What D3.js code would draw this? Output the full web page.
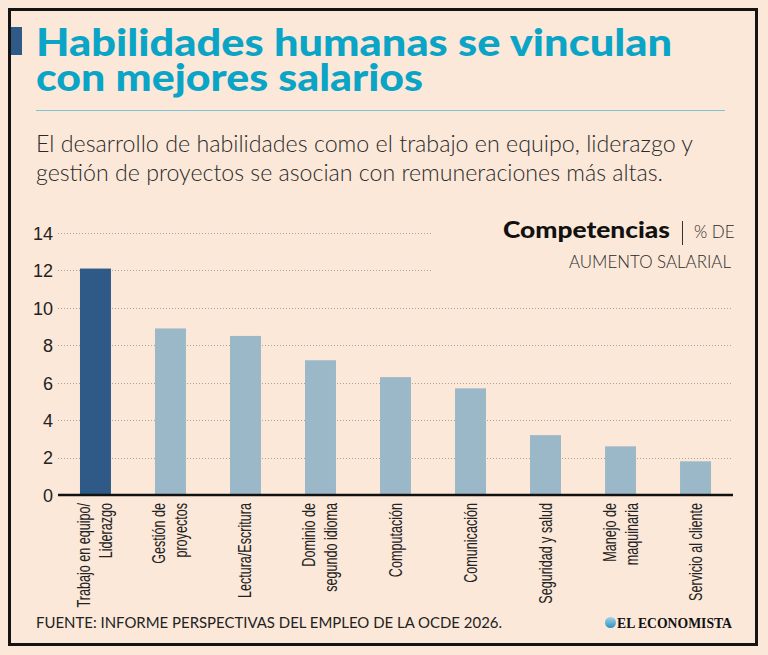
<!DOCTYPE html>
<html>
<head>
<meta charset="utf-8">
<script src="https://cdn.jsdelivr.net/npm/d3@7"></script>
<style>
    body { margin: 0; background: #fbe8d9; }
    svg { display: block; }
</style>
</head>
<body>
<div id="chart"></div>
<script>

// data
const skills = [
    "Trabajo en equipo/\nLiderazgo",
    "Gestión de\nproyectos",
    "Lectura/Escritura",
    "Dominio de\nsegundo idioma",
    "Computación",
    "Comunicación",
    "Seguridad y salud",
    "Manejo de\nmaquinaria",
    "Servicio al cliente"
];
const salaryIncrease = [12.1, 8.9, 8.5, 7.2, 6.3, 5.7, 3.2, 2.6, 1.8];
const yTicks = [0, 2, 4, 6, 8, 10, 12, 14];
const highlighted = ["Trabajo en equipo/\nLiderazgo"];

const titleLines = ["Habilidades humanas se vinculan", "con mejores salarios"];
const subtitleLines = [
    "El desarrollo de habilidades como el trabajo en equipo, liderazgo y",
    "gestión de proyectos se asocian con remuneraciones más altas."
];
const sourceText = "FUENTE: INFORME PERSPECTIVAS DEL EMPLEO DE LA OCDE 2026.";


class BarVis {

    constructor(parentElement) {
        this.parentElement = parentElement;
        this.initVis();
    }

    initVis() {
        let vis = this;

        vis.width = 768;
        vis.height = 655;

        vis.svg = d3.select("#" + vis.parentElement).append("svg")
            .attr("width", vis.width)
            .attr("height", vis.height);

        vis.svg.append("rect")
            .attr("width", vis.width)
            .attr("height", vis.height)
            .attr("fill", "#fbe8d9");

        // frame
        vis.svg.append("rect")
            .attr("x", 9.5).attr("y", 9.5)
            .attr("width", 747).attr("height", 635)
            .attr("fill", "none")
            .attr("stroke", "#141414")
            .attr("stroke-width", 3);

        vis.drawHeader();

        vis.x = d3.scaleBand()
            .domain(skills)
            .range([58, 733])
            .paddingInner(0.587)
            .paddingOuter(0.293);

        vis.y = d3.scaleLinear()
            .domain([0, 14])
            .range([495, 233]);

        vis.updateVis();
    }

    drawHeader() {
        let vis = this;

        vis.svg.append("rect")
            .attr("x", 11).attr("y", 27)
            .attr("width", 11).attr("height", 28)
            .attr("fill", "#2f5a88");

        vis.svg.selectAll(".title")
            .data(titleLines)
            .enter().append("text")
            .attr("class", "title")
            .attr("x", 36)
            .attr("y", (d, i) => 56 + i * 35)
            .attr("font-family", "Lato, sans-serif")
            .attr("font-weight", 900)
            .attr("font-size", "37px")
            .attr("fill", "#0aa4c6")
            .attr("textLength", (d, i) => i === 0 ? 636 : 387)
            .attr("lengthAdjust", "spacingAndGlyphs")
            .text(d => d);

        vis.svg.append("line")
            .attr("x1", 36).attr("x2", 725)
            .attr("y1", 110.5).attr("y2", 110.5)
            .attr("stroke", "#7cc3d3")
            .attr("stroke-width", 1);

        vis.svg.selectAll(".subtitle")
            .data(subtitleLines)
            .enter().append("text")
            .attr("class", "subtitle")
            .attr("x", 36)
            .attr("y", (d, i) => 152 + i * 29)
            .attr("font-family", "Lato, sans-serif")
            .attr("font-weight", 300)
            .attr("font-size", "23px")
            .attr("fill", "#2a2a2a")
            .attr("textLength", (d, i) => i === 0 ? 657 : 627)
            .attr("lengthAdjust", "spacingAndGlyphs")
            .text(d => d);

        // legend
        vis.svg.append("text")
            .attr("x", 670).attr("y", 238)
            .attr("text-anchor", "end")
            .attr("font-family", "Lato, sans-serif")
            .attr("font-weight", 900)
            .attr("font-size", "23px")
            .attr("fill", "#111")
            .attr("textLength", 167)
            .attr("lengthAdjust", "spacingAndGlyphs")
            .text("Competencias");

        vis.svg.append("line")
            .attr("x1", 682.5).attr("x2", 682.5)
            .attr("y1", 221).attr("y2", 245)
            .attr("stroke", "#333")
            .attr("stroke-width", 1);

        vis.svg.append("text")
            .attr("x", 694).attr("y", 238)
            .attr("font-family", "Lato, sans-serif")
            .attr("font-weight", 300)
            .attr("font-size", "17px")
            .attr("fill", "#2a2a2a")
            .text("% DE");

        vis.svg.append("text")
            .attr("x", 731).attr("y", 268)
            .attr("text-anchor", "end")
            .attr("font-family", "Lato, sans-serif")
            .attr("font-weight", 300)
            .attr("font-size", "17px")
            .attr("fill", "#2a2a2a")
            .attr("textLength", 162)
            .attr("lengthAdjust", "spacingAndGlyphs")
            .text("AUMENTO SALARIAL");

        // footer
        vis.svg.append("text")
            .attr("x", 36).attr("y", 628)
            .attr("font-family", "Lato, sans-serif")
            .attr("font-weight", 400)
            .attr("font-size", "16px")
            .attr("fill", "#222")
            .attr("textLength", 466)
            .attr("lengthAdjust", "spacingAndGlyphs")
            .text(sourceText);

        let grad = vis.svg.append("defs").append("linearGradient")
            .attr("id", "logoGrad")
            .attr("x1", 0).attr("x2", 0).attr("y1", 0).attr("y2", 1);
        grad.append("stop").attr("offset", "0%").attr("stop-color", "#9fd6ea");
        grad.append("stop").attr("offset", "100%").attr("stop-color", "#2f8fc0");

        vis.svg.append("circle")
            .attr("cx", 610.5).attr("cy", 622.5)
            .attr("r", 5.5)
            .attr("fill", "url(#logoGrad)");

        vis.svg.append("text")
            .attr("x", 617).attr("y", 628)
            .attr("font-family", "'Liberation Serif', serif")
            .attr("font-weight", 700)
            .attr("font-size", "14px")
            .attr("fill", "#111")
            .attr("textLength", 115)
            .attr("lengthAdjust", "spacingAndGlyphs")
            .text("EL ECONOMISTA");
    }

    updateVis() {
        let vis = this;

        // grid
        vis.svg.selectAll(".grid")
            .data(yTicks.filter(d => d > 0))
            .enter().append("line")
            .attr("class", "grid")
            .attr("x1", 58)
            .attr("x2", d => d >= 12 ? 433 : 733)
            .attr("y1", d => Math.round(vis.y(d)) + 0.5)
            .attr("y2", d => Math.round(vis.y(d)) + 0.5)
            .attr("stroke", "#a9a29b")
            .attr("stroke-width", 1)
            .attr("stroke-dasharray", "1,2");

        // y axis labels
        let yAxis = d3.axisLeft(vis.y)
            .tickValues(yTicks)
            .tickSize(0)
            .tickPadding(0);

        let yG = vis.svg.append("g")
            .attr("transform", "translate(53,0)")
            .call(yAxis);
        yG.select(".domain").remove();
        yG.selectAll("text")
            .attr("font-family", "'Liberation Sans Narrow', 'Arial Narrow', sans-serif")
            .attr("font-size", "18px")
            .attr("fill", "#222")
            .attr("dy", "0.35em");

        // bars
        vis.svg.selectAll(".bar")
            .data(skills)
            .enter().append("rect")
            .attr("class", "bar")
            .attr("x", d => vis.x(d))
            .attr("width", vis.x.bandwidth())
            .attr("y", (d, i) => vis.y(salaryIncrease[i]))
            .attr("height", (d, i) => vis.y(0) - vis.y(salaryIncrease[i]))
            .attr("fill", d => highlighted.includes(d) ? "#2f5a88" : "#9bb8c8");

        // baseline
        vis.svg.append("line")
            .attr("x1", 58).attr("x2", 733)
            .attr("y1", vis.y(0)).attr("y2", vis.y(0))
            .attr("stroke", "#111")
            .attr("stroke-width", 2.5);

        // x labels, rotated
        let labels = vis.svg.selectAll(".xlabel")
            .data(skills)
            .enter().append("text")
            .attr("class", "xlabel")
            .attr("transform", d => `translate(${vis.x(d) + vis.x.bandwidth() / 2},503) rotate(-90) scale(0.7,1)`)
            .attr("text-anchor", "end")
            .attr("font-family", "'Liberation Sans Narrow', 'Arial Narrow', sans-serif")
            .attr("font-size", "18px")
            .attr("fill", "#222");

        labels.each(function(d) {
            let lines = d.split("\n");
            let n = lines.length;
            d3.select(this).selectAll("tspan")
                .data(lines)
                .enter().append("tspan")
                .attr("x", 0)
                .attr("y", (l, i) => 6 + (i - (n - 1) / 2) * 22)
                .text(l => l);
        });
    }
}

let barVis = new BarVis("chart");

</script>
</body>
</html>
